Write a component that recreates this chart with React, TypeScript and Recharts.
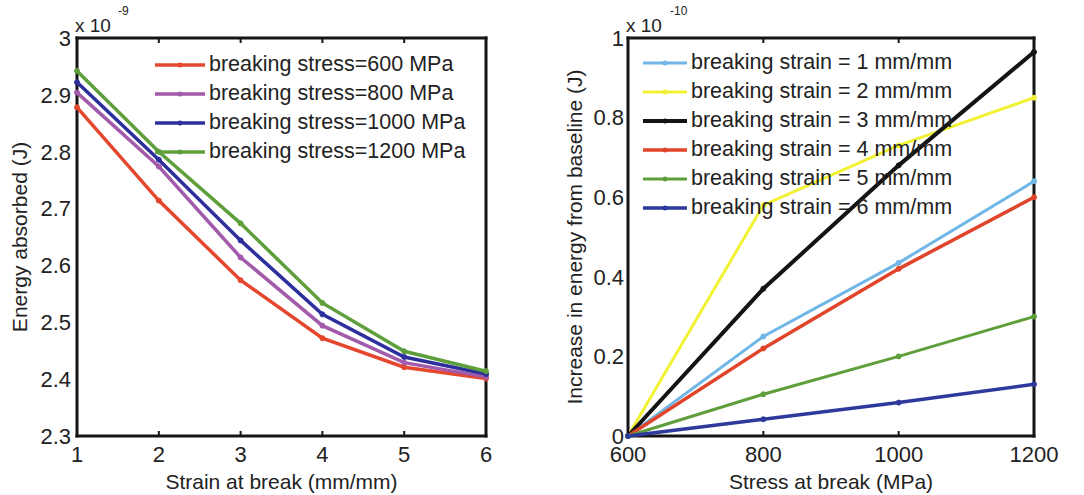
import React from 'react';
import { LineChart, Line, XAxis, YAxis, Legend, ReferenceLine } from 'recharts';

// left panel: energy vs strain at break (values in 1e-9 J)
const strainAtBreak = [1, 2, 3, 4, 5, 6];
const stress600 = [2.878, 2.714, 2.574, 2.472, 2.421, 2.401];
const stress800 = [2.904, 2.774, 2.614, 2.494, 2.429, 2.404];
const stress1000 = [2.922, 2.786, 2.644, 2.514, 2.439, 2.409];
const stress1200 = [2.942, 2.8, 2.674, 2.534, 2.449, 2.414];
const leftYTicks = [2.3, 2.4, 2.5, 2.6, 2.7, 2.8, 2.9, 3];

// right panel: increase in energy vs stress at break (values in 1e-10 J)
const stressAtBreak = [600, 800, 1000, 1200];
const strain1 = [0, 0.25, 0.435, 0.64];
const strain2 = [0, 0.58, 0.73, 0.85];
const strain3 = [0, 0.37, 0.68, 0.965];
const strain4 = [0, 0.22, 0.42, 0.6];
const strain5 = [0, 0.105, 0.2, 0.3];
const strain6 = [0, 0.042, 0.084, 0.13];
const rightYTicks = [0, 0.2, 0.4, 0.6, 0.8, 1];

const leftSeries = [
  { key: 's600', name: 'breaking stress=600 MPa', values: stress600, color: '#e5472e', width: 3.5 },
  { key: 's800', name: 'breaking stress=800 MPa', values: stress800, color: '#a25aaa', width: 3.5 },
  { key: 's1000', name: 'breaking stress=1000 MPa', values: stress1000, color: '#2c2f9c', width: 3.5 },
  { key: 's1200', name: 'breaking stress=1200 MPa', values: stress1200, color: '#5f9f3b', width: 3.5 },
];

const rightSeries = [
  { key: 'e1', name: 'breaking strain = 1 mm/mm', values: strain1, color: '#70b6e6', width: 3 },
  { key: 'e2', name: 'breaking strain = 2 mm/mm', values: strain2, color: '#f2f235', width: 3 },
  { key: 'e3', name: 'breaking strain = 3 mm/mm', values: strain3, color: '#141414', width: 4 },
  { key: 'e4', name: 'breaking strain = 4 mm/mm', values: strain4, color: '#e0452c', width: 3.5 },
  { key: 'e5', name: 'breaking strain = 5 mm/mm', values: strain5, color: '#5f9f3b', width: 3 },
  { key: 'e6', name: 'breaking strain = 6 mm/mm', values: strain6, color: '#2d3a9c', width: 3.5 },
];

const leftData = strainAtBreak.map((x, i) => {
  const row: any = { x };
  leftSeries.forEach((s) => (row[s.key] = s.values[i]));
  return row;
});

const rightData = stressAtBreak.map((x, i) => {
  const row: any = { x };
  rightSeries.forEach((s) => (row[s.key] = s.values[i]));
  return row;
});

const FONT = '"Liberation Sans", Arial, sans-serif';
const TEXT = '#222';
const FRAME = '#151515';
const fmt = (v: number) => String(Math.round(v * 10) / 10);
const noLabel = () => '';

const makeLegend = (series: any[], lineLen: number) => () => (
  <div style={{ fontFamily: FONT }}>
    {series.map((s) => (
      <div key={s.key} style={{ display: 'flex', alignItems: 'center', height: 29 }}>
        <svg width={lineLen} height={10} style={{ marginRight: 4 }}>
          <line x1={0} y1={5} x2={lineLen} y2={5} stroke={s.color} strokeWidth={s.width} />
          <circle cx={lineLen / 2} cy={5} r={2.5} fill={s.color} />
        </svg>
        <span style={{ fontSize: 21.5, color: TEXT, whiteSpace: 'nowrap' }}>{s.name}</span>
      </div>
    ))}
  </div>
);

// labelled axes: labels only
const labelAxis = { axisLine: false, tickLine: false, tickSize: 0, stroke: FRAME };
// helper axes: mirrored so the short tick marks point into the plot
const tickAxis = {
  stroke: FRAME,
  axisLine: false,
  tickLine: { stroke: FRAME, strokeWidth: 2 },
  tickSize: 5,
  mirror: true,
  tickFormatter: noLabel,
};

// frame side drawn at the position the reference line gets from the scales
const FrameSide = (p: any) => (
  <line
    x1={p.x1}
    y1={p.y1}
    x2={p.x2}
    y2={p.y2}
    stroke={FRAME}
    strokeWidth={3}
    strokeLinecap="square"
    style={{ strokeWidth: 3, stroke: FRAME }}
  />
);
const frameLine = { stroke: FRAME, strokeWidth: 3, ifOverflow: 'visible' as const, shape: FrameSide };

const tickText = { fontSize: 22, fill: TEXT, stroke: 'none' };

const App: React.FC = () => {
  return (
    <div
      style={{
        position: 'absolute',
        left: 0,
        top: 0,
        width: 1084,
        height: 495,
        background: '#fff',
        fontFamily: FONT,
      }}
    >
      {/* left panel */}
      <div style={{ position: 'absolute', left: 0, top: 0 }}>
        <LineChart width={540} height={495} data={leftData} margin={{ top: 38, right: 54, bottom: 29, left: 0 }}>
          <XAxis
            {...labelAxis}
            dataKey="x"
            type="number"
            domain={[1, 6]}
            ticks={strainAtBreak}
            height={30}
            tickMargin={10}
            tick={tickText}
            label={{ value: 'Strain at break (mm/mm)', position: 'bottom', offset: 8, fontSize: 21, fill: TEXT, stroke: 'none' }}
          />
          <XAxis {...tickAxis} xAxisId="bt" dataKey="x" type="number" domain={[1, 6]} ticks={strainAtBreak} height={1} />
          <XAxis {...tickAxis} xAxisId="top" orientation="top" dataKey="x" type="number" domain={[1, 6]} ticks={strainAtBreak} height={1} />
          <YAxis
            {...labelAxis}
            type="number"
            domain={[2.3, 3]}
            ticks={leftYTicks}
            width={77}
            tickMargin={6}
            tickFormatter={fmt}
            tick={tickText}
            label={{
              value: 'Energy absorbed (J)',
              angle: -90,
              position: 'insideLeft',
              offset: 20,
              fontSize: 21,
              fill: TEXT,
              stroke: 'none',
              style: { textAnchor: 'middle' },
            }}
          />
          <YAxis {...tickAxis} yAxisId="lt" type="number" domain={[2.3, 3]} ticks={leftYTicks} width={1} />
          <YAxis {...tickAxis} yAxisId="right" orientation="right" type="number" domain={[2.3, 3]} ticks={leftYTicks} width={1} />
          <ReferenceLine x={1} {...frameLine} />
          <ReferenceLine x={6} {...frameLine} />
          <ReferenceLine y={2.3} {...frameLine} />
          <ReferenceLine y={3} {...frameLine} />
          <Legend
            layout="vertical"
            align="center"
            verticalAlign="middle"
            content={makeLegend(leftSeries, 50)}
            wrapperStyle={{ top: 50, left: 155, width: 'auto' }}
          />
          {leftSeries.map((s) => (
            <Line
              key={s.key}
              dataKey={s.key}
              name={s.name}
              type="linear"
              stroke={s.color}
              strokeWidth={s.width}
              dot={{ r: 2.5, fill: s.color, stroke: s.color, strokeWidth: 1 }}
              isAnimationActive={false}
            />
          ))}
          <text x={75} y={32} fontSize={19} fill={TEXT}>x 10</text>
          <text x={118} y={15} fontSize={12} fill={TEXT}>-9</text>
        </LineChart>
      </div>

      {/* right panel */}
      <div style={{ position: 'absolute', left: 540, top: 0 }}>
        <LineChart width={544} height={495} data={rightData} margin={{ top: 38, right: 50, bottom: 29, left: 0 }}>
          <XAxis
            {...labelAxis}
            dataKey="x"
            type="number"
            domain={[600, 1200]}
            ticks={stressAtBreak}
            height={30}
            tickMargin={10}
            tick={tickText}
            label={{ value: 'Stress at break (MPa)', position: 'bottom', offset: 8, fontSize: 21, fill: TEXT, stroke: 'none' }}
          />
          <XAxis {...tickAxis} xAxisId="bt" dataKey="x" type="number" domain={[600, 1200]} ticks={stressAtBreak} height={1} />
          <XAxis {...tickAxis} xAxisId="top" orientation="top" dataKey="x" type="number" domain={[600, 1200]} ticks={stressAtBreak} height={1} />
          <YAxis
            {...labelAxis}
            type="number"
            domain={[0, 1]}
            ticks={rightYTicks}
            width={88}
            tickMargin={4}
            tickFormatter={fmt}
            tick={tickText}
            label={{
              value: 'Increase in energy from baseline (J)',
              angle: -90,
              position: 'insideLeft',
              offset: 35,
              fontSize: 21,
              fill: TEXT,
              stroke: 'none',
              style: { textAnchor: 'middle' },
            }}
          />
          <YAxis {...tickAxis} yAxisId="lt" type="number" domain={[0, 1]} ticks={rightYTicks} width={1} />
          <YAxis {...tickAxis} yAxisId="right" orientation="right" type="number" domain={[0, 1]} ticks={rightYTicks} width={1} />
          <ReferenceLine x={600} {...frameLine} />
          <ReferenceLine x={1200} {...frameLine} />
          <ReferenceLine y={0} {...frameLine} />
          <ReferenceLine y={1} {...frameLine} />
          <Legend
            layout="vertical"
            align="center"
            verticalAlign="middle"
            content={makeLegend(rightSeries, 44)}
            wrapperStyle={{ top: 48, left: 103, width: 'auto' }}
          />
          {rightSeries.map((s) => (
            <Line
              key={s.key}
              dataKey={s.key}
              name={s.name}
              type="linear"
              stroke={s.color}
              strokeWidth={s.width}
              dot={{ r: 2.5, fill: s.color, stroke: s.color, strokeWidth: 1 }}
              isAnimationActive={false}
            />
          ))}
          <text x={86} y={32} fontSize={19} fill={TEXT}>x 10</text>
          <text x={130} y={15} fontSize={12} fill={TEXT}>-10</text>
        </LineChart>
      </div>
    </div>
  );
};

export default App;
